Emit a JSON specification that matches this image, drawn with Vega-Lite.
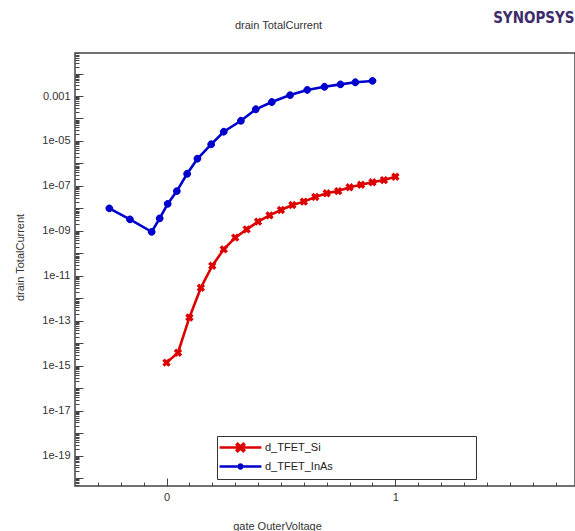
{
  "$schema": "https://vega.github.io/schema/vega-lite/v6.json",
  "width": 500,
  "height": 433,
  "autosize": "none",
  "padding": {"left": 75, "top": 53, "right": 0, "bottom": 45},
  "background": "white",
  "config": {
    "font": "Liberation Sans",
    "view": {"stroke": "#444", "strokeWidth": 1.5}
  },
  "resolve": {"scale": {"color": "independent", "shape": "independent"}, "axis": {"y": "independent", "x": "independent"}},
  "data": {
    "values": [
      {"series": "d_TFET_Si", "v": 0.0, "i": 1.38e-15},
      {"series": "d_TFET_Si", "v": 0.05, "i": 3.8e-15},
      {"series": "d_TFET_Si", "v": 0.1, "i": 1.41e-13},
      {"series": "d_TFET_Si", "v": 0.15, "i": 2.95e-12},
      {"series": "d_TFET_Si", "v": 0.2, "i": 2.82e-11},
      {"series": "d_TFET_Si", "v": 0.25, "i": 1.51e-10},
      {"series": "d_TFET_Si", "v": 0.3, "i": 5.0e-10},
      {"series": "d_TFET_Si", "v": 0.35, "i": 1.17e-9},
      {"series": "d_TFET_Si", "v": 0.4, "i": 2.57e-9},
      {"series": "d_TFET_Si", "v": 0.45, "i": 4.9e-9},
      {"series": "d_TFET_Si", "v": 0.5, "i": 8.5e-9},
      {"series": "d_TFET_Si", "v": 0.55, "i": 1.41e-8},
      {"series": "d_TFET_Si", "v": 0.6, "i": 2.0e-8},
      {"series": "d_TFET_Si", "v": 0.65, "i": 3.24e-8},
      {"series": "d_TFET_Si", "v": 0.7, "i": 4.7e-8},
      {"series": "d_TFET_Si", "v": 0.75, "i": 5.9e-8},
      {"series": "d_TFET_Si", "v": 0.8, "i": 8.7e-8},
      {"series": "d_TFET_Si", "v": 0.85, "i": 1.12e-7},
      {"series": "d_TFET_Si", "v": 0.9, "i": 1.45e-7},
      {"series": "d_TFET_Si", "v": 0.95, "i": 1.82e-7},
      {"series": "d_TFET_Si", "v": 1.0, "i": 2.57e-7},
      {"series": "d_TFET_InAs", "v": -0.25, "i": 1.0e-8},
      {"series": "d_TFET_InAs", "v": -0.16, "i": 3.24e-9},
      {"series": "d_TFET_InAs", "v": -0.065, "i": 9.1e-10},
      {"series": "d_TFET_InAs", "v": -0.03, "i": 3.6e-9},
      {"series": "d_TFET_InAs", "v": 0.005, "i": 1.58e-8},
      {"series": "d_TFET_InAs", "v": 0.045, "i": 5.9e-8},
      {"series": "d_TFET_InAs", "v": 0.09, "i": 3.47e-7},
      {"series": "d_TFET_InAs", "v": 0.135, "i": 1.62e-6},
      {"series": "d_TFET_InAs", "v": 0.195, "i": 7.1e-6},
      {"series": "d_TFET_InAs", "v": 0.25, "i": 2.57e-5},
      {"series": "d_TFET_InAs", "v": 0.325, "i": 7.9e-5},
      {"series": "d_TFET_InAs", "v": 0.39, "i": 2.57e-4},
      {"series": "d_TFET_InAs", "v": 0.46, "i": 5.4e-4},
      {"series": "d_TFET_InAs", "v": 0.54, "i": 1.1e-3},
      {"series": "d_TFET_InAs", "v": 0.615, "i": 1.86e-3},
      {"series": "d_TFET_InAs", "v": 0.69, "i": 2.57e-3},
      {"series": "d_TFET_InAs", "v": 0.76, "i": 3.3e-3},
      {"series": "d_TFET_InAs", "v": 0.825, "i": 4.07e-3},
      {"series": "d_TFET_InAs", "v": 0.9, "i": 4.68e-3}
    ]
  },
  "encoding": {
    "x": {
      "field": "v",
      "type": "quantitative",
      "title": "gate OuterVoltage",
      "scale": {"domain": [-0.4, 1.785], "nice": false, "zero": false},
      "axis": {
        "values": [-0.3, -0.2, -0.1, 0, 0.1, 0.2, 0.3, 0.4, 0.5, 0.6, 0.7, 0.8, 0.9, 1, 1.1, 1.2, 1.3, 1.4, 1.5, 1.6, 1.7],
        "labelExpr": "datum.value == 0 ? '0' : datum.value == 1 ? '1' : ''",
        "labelOverlap": false,
        "labelFlush": false,
        "grid": false,
        "domain": false,
        "tickColor": "#444",
        "tickWidth": 1,
        "tickSize": {"condition": {"test": "datum.value == 0 || datum.value == 1", "value": -8}, "value": -4},
        "labelPadding": 13,
        "labelFontSize": 11,
        "labelColor": "#333",
        "labelFont": "Liberation Sans",
        "titleFontSize": 11,
        "titleFontWeight": "normal",
        "titleColor": "#333",
        "titleFont": "Liberation Sans",
        "titleX": 202,
        "titleY": 40,
        "titleBaseline": "middle",
        "titleAnchor": "start",
        "titleAlign": "center"
      }
    },
    "y": {
      "field": "i",
      "type": "quantitative",
      "title": "drain TotalCurrent",
      "scale": {"type": "log", "domain": [4.49e-21, 0.0818], "nice": false},
      "axis": {
        "values": [5e-21, 6e-21, 7e-21, 8e-21, 9e-21,
          1e-20, 2e-20, 3e-20, 4e-20, 5e-20, 6e-20, 7e-20, 8e-20, 9e-20,
          1e-19, 2e-19, 3e-19, 4e-19, 5e-19, 6e-19, 7e-19, 8e-19, 9e-19,
          1e-18, 2e-18, 3e-18, 4e-18, 5e-18, 6e-18, 7e-18, 8e-18, 9e-18,
          1e-17, 2e-17, 3e-17, 4e-17, 5e-17, 6e-17, 7e-17, 8e-17, 9e-17,
          1e-16, 2e-16, 3e-16, 4e-16, 5e-16, 6e-16, 7e-16, 8e-16, 9e-16,
          1e-15, 2e-15, 3e-15, 4e-15, 5e-15, 6e-15, 7e-15, 8e-15, 9e-15,
          1e-14, 2e-14, 3e-14, 4e-14, 5e-14, 6e-14, 7e-14, 8e-14, 9e-14,
          1e-13, 2e-13, 3e-13, 4e-13, 5e-13, 6e-13, 7e-13, 8e-13, 9e-13,
          1e-12, 2e-12, 3e-12, 4e-12, 5e-12, 6e-12, 7e-12, 8e-12, 9e-12,
          1e-11, 2e-11, 3e-11, 4e-11, 5e-11, 6e-11, 7e-11, 8e-11, 9e-11,
          1e-10, 2e-10, 3e-10, 4e-10, 5e-10, 6e-10, 7e-10, 8e-10, 9e-10,
          1e-9, 2e-9, 3e-9, 4e-9, 5e-9, 6e-9, 7e-9, 8e-9, 9e-9,
          1e-8, 2e-8, 3e-8, 4e-8, 5e-8, 6e-8, 7e-8, 8e-8, 9e-8,
          1e-7, 2e-7, 3e-7, 4e-7, 5e-7, 6e-7, 7e-7, 8e-7, 9e-7,
          1e-6, 2e-6, 3e-6, 4e-6, 5e-6, 6e-6, 7e-6, 8e-6, 9e-6,
          1e-5, 2e-5, 3e-5, 4e-5, 5e-5, 6e-5, 7e-5, 8e-5, 9e-5,
          1e-4, 2e-4, 3e-4, 4e-4, 5e-4, 6e-4, 7e-4, 8e-4, 9e-4,
          1e-3, 2e-3, 3e-3, 4e-3, 5e-3, 6e-3, 7e-3, 8e-3, 9e-3,
          1e-2, 2e-2, 3e-2, 4e-2, 5e-2, 6e-2, 7e-2, 8e-2],
        "labelExpr": "abs(log(datum.value)/LN10 - round(log(datum.value)/LN10)) > 0.001 || round(log(datum.value)/LN10) % 2 == 0 ? '' : round(log(datum.value)/LN10) == -3 ? '0.001' : '1e-' + (round(log(datum.value)/LN10) > -10 ? '0' : '') + abs(round(log(datum.value)/LN10))",
        "labelOverlap": false,
        "labelFlush": false,
        "grid": false,
        "domain": false,
        "tickColor": "#444",
        "tickWidth": 1,
        "tickSize": {"condition": {"test": "abs(log(datum.value)/LN10 - round(log(datum.value)/LN10)) < 0.001", "value": -8}, "value": -4},
        "labelPadding": 13,
        "labelFontSize": 11,
        "labelColor": "#333",
        "labelFont": "Liberation Sans",
        "titleFontSize": 11,
        "titleFontWeight": "normal",
        "titleColor": "#333",
        "titleFont": "Liberation Sans",
        "titleX": -55,
        "titleY": 204,
        "titleAngle": -90,
        "titleBaseline": "middle",
        "titleAlign": "center"
      }
    }
  },
  "layer": [
    {
      "mark": {"type": "line", "strokeWidth": 2.6, "clip": true},
      "encoding": {
        "color": {
          "field": "series",
          "type": "nominal",
          "scale": {"domain": ["d_TFET_Si", "d_TFET_InAs"], "range": ["#dd0000", "#0000cc"]},
          "legend": null
        }
      }
    },
    {
      "mark": {"type": "point", "filled": true, "opacity": 1, "angle": 45, "clip": true},
      "encoding": {
        "x": {"field": "v", "type": "quantitative", "axis": null},
        "y": {"field": "i", "type": "quantitative", "axis": null},
        "color": {
          "field": "series",
          "type": "nominal",
          "scale": {"domain": ["d_TFET_Si", "d_TFET_InAs"], "range": ["#dd0000", "#0000cc"]},
          "legend": null
        },
        "shape": {
          "field": "series",
          "type": "nominal",
          "scale": {"domain": ["d_TFET_Si", "d_TFET_InAs"], "range": ["cross", "circle"]},
          "legend": null
        },
        "size": {
          "field": "series",
          "type": "nominal",
          "scale": {"domain": ["d_TFET_Si", "d_TFET_InAs"], "range": [72, 55]},
          "legend": null
        }
      }
    },
    {
      "mark": {"type": "point", "filled": true, "opacity": 0, "size": 70, "clip": true},
      "encoding": {
        "x": {
          "field": "v",
          "type": "quantitative",
          "axis": {
            "orient": "top",
            "title": "drain TotalCurrent",
            "domain": false,
            "ticks": false,
            "labels": false,
            "grid": false,
            "titleX": 203,
            "titleY": -28,
            "titleAlign": "center",
            "titleAnchor": "start",
            "titleBaseline": "middle",
            "titleFont": "Liberation Sans",
            "titleFontWeight": "normal",
            "titleFontSize": 11,
            "titleColor": "#333"
          }
        },
        "y": {
          "field": "i",
          "type": "quantitative",
          "axis": {
            "orient": "right",
            "title": "SYNOPSYS",
            "domain": false,
            "ticks": false,
            "labels": false,
            "grid": false,
            "titleAngle": 0,
            "titleX": -1,
            "titleY": -36,
            "titleAlign": "right",
            "titleAnchor": "start",
            "titleBaseline": "middle",
            "titleFont": "DejaVu Sans Condensed",
            "titleFontWeight": "bold",
            "titleFontSize": 15,
            "titleColor": "#3d2b6b"
          }
        },
        "color": {
          "field": "series",
          "type": "nominal",
          "scale": {"domain": ["d_TFET_Si", "d_TFET_InAs"], "range": ["#dd0000", "#0000cc"]},
          "legend": {
            "orient": "none",
            "legendX": 142,
            "legendY": 383,
            "title": null,
            "direction": "vertical",
            "strokeColor": "#333",
            "fillColor": "white",
            "padding": 6,
            "rowPadding": 3,
            "symbolSize": 70,
            "symbolOpacity": 1,
            "symbolOffset": 12,
            "labelOffset": 19,
            "labelFontSize": 11,
            "labelColor": "#222",
            "labelFont": "Liberation Sans",
            "labelLimit": 0
          }
        },
        "shape": {
          "field": "series",
          "type": "nominal",
          "scale": {
            "domain": ["d_TFET_Si", "d_TFET_InAs"],
            "range": [
              "M-5,-0.3H5V0.3H-5Z M-0.68,-1.32L1.32,0.68L0.68,1.32L-1.32,-0.68Z M-0.68,1.32L-1.32,0.68L0.68,-1.32L1.32,-0.68Z M54,-0.01L54,0.01Z",
              "M-5,-0.3H-0.7V0.3H-5Z M0.7,-0.3H5V0.3H0.7Z M-0.75,0A0.75,0.75 0 1,0 0.75,0A0.75,0.75 0 1,0 -0.75,0Z M54,-0.01L54,0.01Z"
            ]
          },
          "legend": {
            "orient": "none",
            "legendX": 142,
            "legendY": 383,
            "title": null,
            "direction": "vertical",
            "strokeColor": "#333",
            "fillColor": "white",
            "padding": 6,
            "rowPadding": 3,
            "symbolSize": 70,
            "symbolOpacity": 1,
            "symbolOffset": 12,
            "labelOffset": 19,
            "labelFontSize": 11,
            "labelColor": "#222",
            "labelFont": "Liberation Sans",
            "labelLimit": 0
          }
        }
      }
    }
  ]
}
